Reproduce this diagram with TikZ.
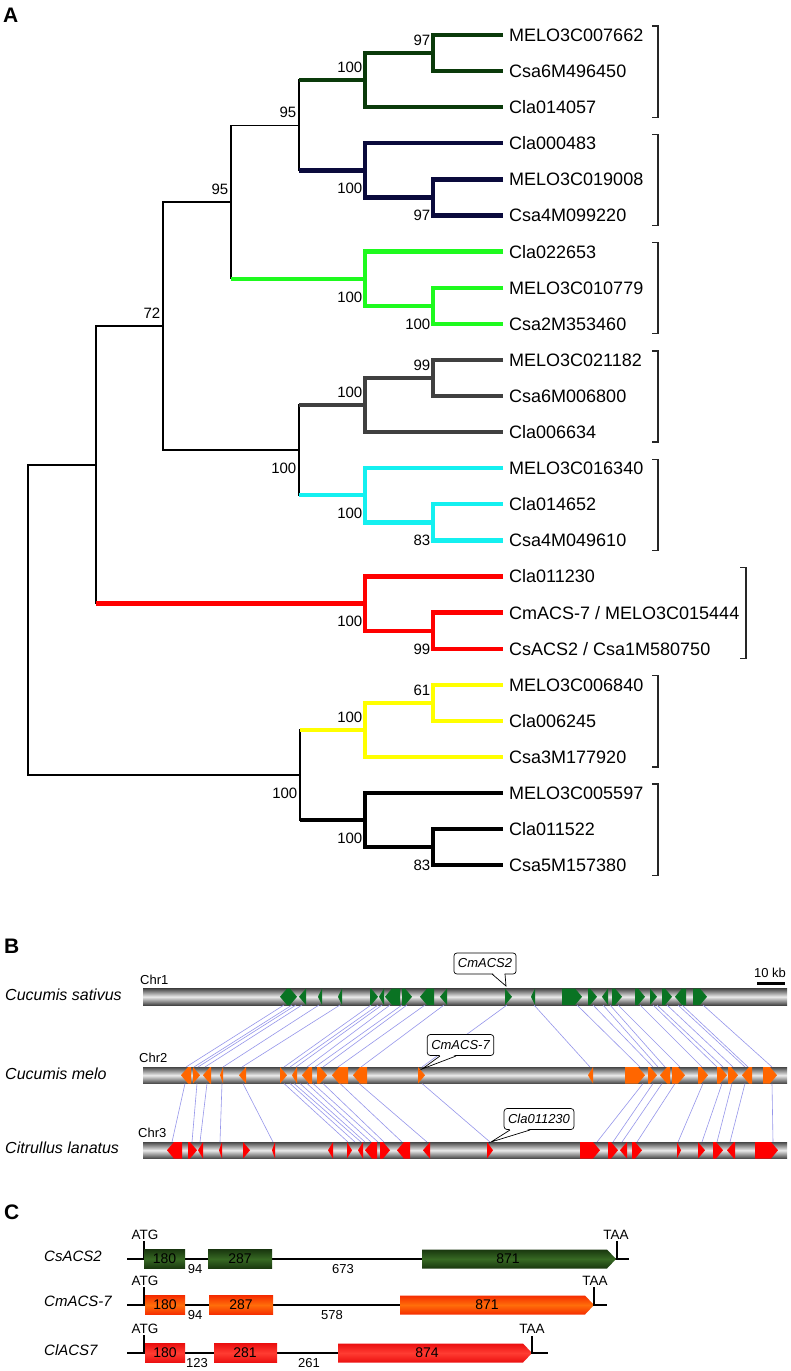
\documentclass[tikz,border=0pt]{standalone}
\usepackage{fontspec}
\setmainfont{Liberation Sans}
\newcommand\fsz[1]{\fontsize{#1pt}{#1pt}\selectfont}
\definecolor{cDG}{RGB}{10,58,10}
\definecolor{cNV}{RGB}{10,10,60}
\definecolor{cBG}{RGB}{30,250,30}
\definecolor{cGR}{RGB}{64,64,64}
\definecolor{cCY}{RGB}{20,240,240}
\definecolor{cRD}{RGB}{255,0,0}
\definecolor{cYL}{RGB}{255,255,0}
\definecolor{geneA}{RGB}{10,115,35}
\definecolor{geneB}{RGB}{255,102,0}
\definecolor{geneC}{RGB}{255,0,0}
\definecolor{lnkc}{RGB}{150,150,235}
\definecolor{chrD}{RGB}{70,70,70}
\definecolor{chrL}{RGB}{235,235,235}
\definecolor{exGd}{RGB}{25,55,15}
\definecolor{exGl}{RGB}{55,105,35}
\definecolor{exOd}{RGB}{245,45,0}
\definecolor{exOl}{RGB}{255,110,10}
\definecolor{exRd}{RGB}{235,15,15}
\definecolor{exRl}{RGB}{255,60,50}
\tikzset{
 bb/.style={line width=1.4pt, black, line cap=rect},
 cl/.style={line width=4.3pt},
 leaf/.style={anchor=west, inner sep=0pt, font=\fsz{18}, text height=12.9pt, text depth=0pt},
 bs/.style={anchor=east, inner sep=0pt, font=\fsz{15}, text height=10.7pt, text depth=0pt},
 brk/.style={line width=1.3pt, black!85},
 lnk/.style={draw=lnkc, line width=0.6pt},
 callout/.style={draw, line width=0.7pt, rounded corners=3pt, fill=white, inner xsep=4pt, inner ysep=0pt, minimum height=21pt, font=\fsz{13}\itshape},
 panel/.style={anchor=west, inner sep=0pt, font=\fsz{21}\bfseries},
 species/.style={anchor=west, inner sep=0pt, font=\fsz{16}\itshape},
 chrlab/.style={anchor=west, inner sep=0pt, font=\fsz{13}},
 gname/.style={anchor=west, inner sep=0pt, font=\fsz{15}\itshape},
 codon/.style={inner sep=0pt, font=\fsz{13.5}},
 exlab/.style={inner sep=0pt, font=\fsz{14}},
 inlab/.style={inner sep=0pt, font=\fsz{13}},
 gline/.style={line width=1.5pt, black},
 exG/.style={top color=exGd, bottom color=exGd, middle color=exGl},
 exO/.style={top color=exOd, bottom color=exOd, middle color=exOl},
 exR/.style={top color=exRd, bottom color=exRd, middle color=exRl},
}
\newcommand\genes[4]{%
 \foreach \ga/\gb/\gd in {#4}{%
  \pgfmathsetmacro\gHd{min(7,\gb-\ga)}%
  \pgfmathsetmacro\gNk{\gd>0 ? \gb-\gHd : \ga+\gHd}%
  \pgfmathsetmacro\gTp{\gd>0 ? \gb : \ga}%
  \pgfmathsetmacro\gBs{\gd>0 ? \ga : \gb}%
  \fill[#3] (\gBs,#1) -- (\gNk,#1) -- (\gTp,{(#1+#2)/2}) -- (\gNk,#2) -- (\gBs,#2) -- cycle;
 }}
\begin{document}
\begin{tikzpicture}[x=1pt,y=-1pt]
\useasboundingbox (0,0) rectangle (790,1371);
\fill[white] (0,0) rectangle (790,1371);

% ================= Panel A =================
\node[panel] (pA) at (3,15) {A};
\foreach \i/\t in {1/MELO3C007662, 2/Csa6M496450, 3/Cla014057, 4/Cla000483, 5/MELO3C019008, 6/Csa4M099220, 7/Cla022653, 8/MELO3C010779, 9/Csa2M353460, 10/MELO3C021182, 11/Csa6M006800, 12/Cla006634, 13/MELO3C016340, 14/Cla014652, 15/Csa4M049610, 16/Cla011230, 17/{CmACS-7 / MELO3C015444}, 18/{CsACS2 / Csa1M580750}, 19/MELO3C006840, 20/Cla006245, 21/Csa3M177920, 22/MELO3C005597, 23/Cla011522, 24/Csa5M157380}{
  \coordinate (L\i) at (503,{35+36.1*(\i-1)});
  \node[leaf] (lab\i) at (509,{35+36.1*(\i-1)}) {\t};
}
\coordinate (dgs) at (433,53.05);
\coordinate (DG) at (365,80.1);
\coordinate (ns) at (433,197.45);
\coordinate (N) at (365,170.4);
\coordinate (e) at (299,125.25);
\coordinate (gs) at (433,305.75);
\coordinate (G) at (365,278.7);
\coordinate (c) at (231,202);
\coordinate (grs) at (433,377.95);
\coordinate (GR) at (365,405);
\coordinate (cys) at (433,522.35);
\coordinate (CY) at (365,495.3);
\coordinate (d) at (299,450.15);
\coordinate (b) at (163,326.1);
\coordinate (rs) at (433,630.65);
\coordinate (R) at (365,603.6);
\coordinate (a) at (96,464.85);
\coordinate (ys) at (433,702.85);
\coordinate (Y) at (365,729.9);
\coordinate (ks) at (433,847.25);
\coordinate (K) at (365,820.2);
\coordinate (f) at (300,775.05);
\coordinate (r) at (28,619.95);

% backbone
\draw[bb] (e|-DG) -- (e|-N);
\draw[bb] (e) -| (c) -- (c|-G);
\draw[bb] (c) -| (b) |- (d);
\draw[bb] (d|-GR) -- (d|-CY);
\draw[bb] (b) -| (a) -- (a|-R);
\draw[bb] (f|-Y) -- (f|-K);
\draw[bb] (a) -| (r) |- (f);

% coloured clades
\draw[cl,cDG] (L1) -| (dgs) |- (L2);
\draw[cl,cDG] (dgs) -| (DG) |- (L3);
\draw[cl,cDG] (e|-DG) -- (DG);
\draw[cl,cNV] (L5) -| (ns) |- (L6);
\draw[cl,cNV] (L4) -| (N) |- (ns);
\draw[cl,cNV] (e|-N) -- (N);
\draw[cl,cBG] (L8) -| (gs) |- (L9);
\draw[cl,cBG] (L7) -| (G) |- (gs);
\draw[cl,cBG] (c|-G) -- (G);
\draw[cl,cGR] (L10) -| (grs) |- (L11);
\draw[cl,cGR] (grs) -| (GR) |- (L12);
\draw[cl,cGR] (d|-GR) -- (GR);
\draw[cl,cCY] (L14) -| (cys) |- (L15);
\draw[cl,cCY] (L13) -| (CY) |- (cys);
\draw[cl,cCY] (d|-CY) -- (CY);
\draw[cl,cRD] (L17) -| (rs) |- (L18);
\draw[cl,cRD] (L16) -| (R) |- (rs);
\draw[cl,cRD] (a|-R) -- (R);
\draw[cl,cYL] (L19) -| (ys) |- (L20);
\draw[cl,cYL] (ys) -| (Y) |- (L21);
\draw[cl,cYL] (f|-Y) -- (Y);
\draw[cl,black] (L23) -| (ks) |- (L24);
\draw[cl,black] (L22) -| (K) |- (ks);
\draw[cl,black] (f|-K) -- (K);

% bootstrap values
\foreach \n/\v in {dgs/97, DG/100, e/95, c/95, b/72, GR/100, grs/99, ys/61, Y/100}
  \node[bs] (bsu\n) at ([shift={(-2.5,-13)}]\n) {\v};
\foreach \n/\v in {N/100, ns/97, G/100, gs/100, d/100, CY/100, cys/83, R/100, rs/99, f/100, K/100, ks/83}
  \node[bs] (bsl\n) at ([shift={(-2.5,18)}]\n) {\v};

% brackets
\foreach \p/\q/\x in {1/3/658, 4/6/658, 7/9/658, 10/12/658, 13/15/658, 16/18/746, 19/21/658, 22/24/658}
  \draw[brk] (\x-6,{35+36.1*(\p-1)-9}) -- (\x,{35+36.1*(\p-1)-9}) -- (\x,{35+36.1*(\q-1)+10}) -- (\x-6,{35+36.1*(\q-1)+10});

% ================= Panel B =================
\node[panel] (pB) at (4,946) {B};
\node[species] (sp1) at (5,995) {Cucumis sativus};
\node[species] (sp2) at (5,1074) {Cucumis melo};
\node[species] (sp3) at (5,1148) {Citrullus lanatus};
\node[chrlab] (ch1) at (140,980) {Chr1};
\node[chrlab] (ch2) at (139,1058) {Chr2};
\node[chrlab] (ch3) at (138,1133) {Chr3};
\foreach \yt/\yb in {988.5/1005, 1067/1083.5, 1142/1158.5}
  \shade[top color=chrD, bottom color=chrD, middle color=chrL] (143,\yt) rectangle (787,\yb);

\foreach \u/\v in {284/186, 292/194, 296/198, 302/205, 319/223, 340/242, 371/284, 378/290, 382/296, 390/307, 402/315, 407/323, 425/338, 444/361, 507/422, 534/590, 577/640, 593/653, 603/658, 610/665, 618/680, 640/702, 653/717, 657/723, 667/733, 678/745, 682/748, 703/772}
  \draw[lnk] (\u,1005) -- (\v,1067);
\foreach \u/\v in {185/172, 197/192, 207/200, 222/220, 243/273, 284/348, 290/355, 294/361, 300/365, 307/371, 313/378, 323/384, 340/402, 359/427, 422/490, 643/597, 653/613, 662/622, 675/637, 703/678, 722/702, 732/717, 745/730, 772/773}
  \draw[lnk] (\u,1083.5) -- (\v,1142);

\genes{988.5}{1005}{geneA}{280/290/0, 290/297/1, 299/306/0, 318/322/0, 338/342/0, 370/378/1, 379/384/0, 385/400/0, 402/412/1, 420/434/0, 440/447/0, 505/512/1, 531/535/0, 562/582/1, 588/597/1, 602/608/0, 612/622/1, 635/645/1, 650/657/1, 662/672/1, 675/686/0, 693/707/1}
\genes{1067}{1083.5}{geneB}{181/191/0, 193/200/1, 203/211/0, 220/223/0, 239/246/0, 280/287/1, 292/297/0, 302/312/0, 317/327/1, 332/348/0, 353/367/0, 418/425/1, 588/593/0, 625/645/1, 648/657/1, 660/670/0, 672/685/1, 698/708/1, 717/727/1, 728/738/1, 742/752/0, 763/777/1}
\genes{1142}{1158.5}{geneC}{167/182/0, 188/197/1, 198/203/0, 219/222/0, 243/250/1, 272/275/0, 328/333/0, 347/352/1, 358/363/0, 365/377/0, 380/390/1, 397/410/0, 423/430/0, 487/493/1, 580/600/1, 608/618/1, 620/627/0, 632/642/1, 677/681/1, 698/705/1, 713/723/1, 727/735/0, 755/778/1}

% callouts
\node[callout] (co1) at (485,963.5) {CmACS2};
\coordinate (tip1) at (506,986);
\fill[white] (492.5,973) -- (tip1) -- (504.5,973) -- cycle;
\draw[line width=0.7pt] (492,974) -- (tip1) -- (505,974);
\node[callout] (co2) at (460.5,1045) {CmACS-7};
\coordinate (tip2) at (422,1069);
\fill[white] (440.5,1055) -- (tip2) -- (455.5,1055) -- cycle;
\draw[line width=0.7pt] (440,1056) -- (tip2) -- (456,1056);
\node[callout] (co3) at (539,1119) {Cla011230};
\coordinate (tip3) at (491,1142);
\fill[white] (510.5,1129) -- (tip3) -- (529.5,1129) -- cycle;
\draw[line width=0.7pt] (510,1130) -- (tip3) -- (530,1130);

% scale bar
\node[inner sep=0pt, font=\fsz{13}] (sb) at (770,973) {10 kb};
\draw[line width=3pt] (757,983) -- (785,983);

% ================= Panel C =================
\node[panel] (pC) at (4,1212) {C};
\node[gname] (gn1) at (44,1256) {CsACS2};
\node[gname] (gn2) at (44,1301) {CmACS-7};
\node[gname] (gn3) at (44,1350) {ClACS7};

% row 1
\draw[gline] (127,1259) -- (616,1259);
\draw[gline] (144,1241) -- (144,1259);
\node[codon] (atg1) at (145,1235) {ATG};
\shade[exG] (144,1249.5) rectangle (185,1268.5);
\node[exlab] at (164.5,1259) {180};
\node[inlab] at (195,1269) {94};
\shade[exG] (208,1249.5) rectangle (272,1268.5);
\node[exlab] at (240,1259) {287};
\node[inlab] at (343,1269) {673};
\shade[exG] (422,1249.5) -- (607,1249.5) -- (616,1259) -- (607,1268.5) -- (422,1268.5) -- cycle;
\node[exlab] at (508,1259) {871};
\draw[gline] (617,1241) -- (617,1259) -- (629,1259);
\node[codon] (taa1) at (616,1235) {TAA};

% row 2
\draw[gline] (127,1305) -- (594,1305);
\draw[gline] (144,1287) -- (144,1305);
\node[codon] (atg2) at (145,1281) {ATG};
\shade[exO] (145,1295.5) rectangle (185,1314.5);
\node[exlab] at (165,1305) {180};
\node[inlab] at (195,1315) {94};
\shade[exO] (209,1295.5) rectangle (273,1314.5);
\node[exlab] at (241,1305) {287};
\node[inlab] at (332,1315) {578};
\shade[exO] (400,1295.5) -- (585,1295.5) -- (594,1305) -- (585,1314.5) -- (400,1314.5) -- cycle;
\node[exlab] at (487,1305) {871};
\draw[gline] (594,1287) -- (594,1305) -- (607,1305);
\node[codon] (taa2) at (595,1281) {TAA};

% row 3
\draw[gline] (127,1353) -- (532,1353);
\draw[gline] (144,1335) -- (144,1353);
\node[codon] (atg3) at (145,1329) {ATG};
\shade[exR] (145,1343.5) rectangle (185,1362.5);
\node[exlab] at (165,1353) {180};
\node[inlab] at (197,1363) {123};
\shade[exR] (214,1343.5) rectangle (277,1362.5);
\node[exlab] at (245,1353) {281};
\node[inlab] at (309,1363) {261};
\shade[exR] (338,1343.5) -- (523,1343.5) -- (532,1353) -- (523,1362.5) -- (338,1362.5) -- cycle;
\node[exlab] at (427,1353) {874};
\draw[gline] (532,1336) -- (532,1353) -- (548,1353);
\node[codon] (taa3) at (532,1329) {TAA};
\end{tikzpicture}
\end{document}
